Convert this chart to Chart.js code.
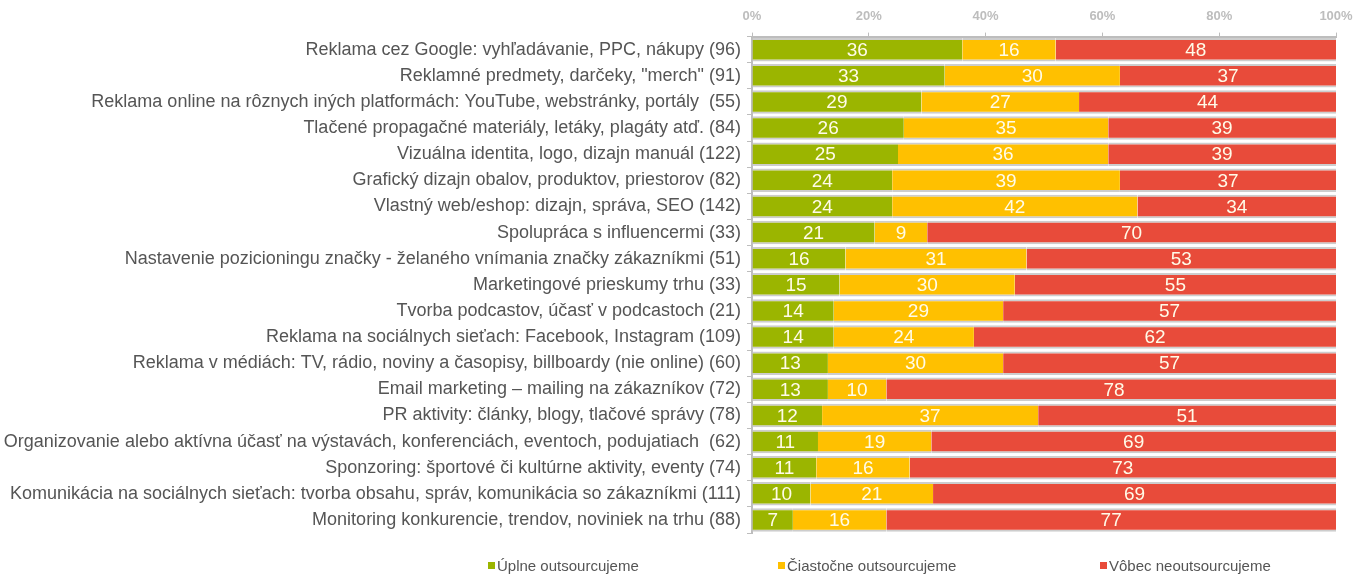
<!DOCTYPE html>
<html>
<head>
<meta charset="utf-8">
<script src="https://cdn.jsdelivr.net/npm/chart.js@4"></script>
<style>
  body { margin: 0; background: #fff; }
  #wrap { position: relative; width: 1357px; height: 577px; }
  #legend { position: absolute; top: 557px; left: 0; width: 1357px; height: 20px;
    font-family: "Liberation Sans", Arial, sans-serif; font-size: 15px; color: #555; }
  .item { position: absolute; top: 0; white-space: nowrap; }
  .item span.box { display: inline-block; width: 7px; height: 7px; margin-right: 2px; vertical-align: 2px; }
</style>
</head>
<body>
<div id="wrap">
  <canvas id="myChart" width="1357" height="577"></canvas>
  <div id="legend"></div>
</div>
<script>
// data
var categories = [
  'Reklama cez Google: vyhľadávanie, PPC, nákupy (96)',
  'Reklamné predmety, darčeky, "merch" (91)',
  'Reklama online na rôznych iných platformách: YouTube, webstránky, portály  (55)',
  'Tlačené propagačné materiály, letáky, plagáty atď. (84)',
  'Vizuálna identita, logo, dizajn manuál (122)',
  'Grafický dizajn obalov, produktov, priestorov (82)',
  'Vlastný web/eshop: dizajn, správa, SEO (142)',
  'Spolupráca s influencermi (33)',
  'Nastavenie pozicioningu značky - želaného vnímania značky zákazníkmi (51)',
  'Marketingové prieskumy trhu (33)',
  'Tvorba podcastov, účasť v podcastoch (21)',
  'Reklama na sociálnych sieťach: Facebook, Instagram (109)',
  'Reklama v médiách: TV, rádio, noviny a časopisy, billboardy (nie online) (60)',
  'Email marketing – mailing na zákazníkov (72)',
  'PR aktivity: články, blogy, tlačové správy (78)',
  'Organizovanie alebo aktívna účasť na výstavách, konferenciách, eventoch, podujatiach  (62)',
  'Sponzoring: športové či kultúrne aktivity, eventy (74)',
  'Komunikácia na sociálnych sieťach: tvorba obsahu, správ, komunikácia so zákazníkmi (111)',
  'Monitoring konkurencie, trendov, noviniek na trhu (88)'
];
var fullyOut   = [36, 33, 29, 26, 25, 24, 24, 21, 16, 15, 14, 14, 13, 13, 12, 11.3, 11, 10, 7];
var partlyOut  = [16, 30, 27, 35, 36, 39, 42,  9, 31, 30, 29, 24, 30, 10, 37, 19.4, 16, 21, 16];
var notOut     = [48, 37, 44, 39, 39, 37, 34, 70, 53, 55, 57, 62, 57, 78, 51, 69.3, 73, 69, 77];
var seriesNames = ['Úplne outsourcujeme', 'Čiastočne outsourcujeme', 'Vôbec neoutsourcujeme'];
var tickValues = [0, 20, 40, 60, 80, 100];

var colors = ['#9bb500', '#ffc000', '#e84b3a'];
var font = '"Liberation Sans", Arial, sans-serif';

function makeSet(i, values) {
  return {
    label: seriesNames[i],
    data: values,
    backgroundColor: colors[i],
    borderColor: '#cdcdcd',
    borderWidth: {top: 2, bottom: 2, left: 0, right: 0},
    borderSkipped: false,
    barPercentage: 0.9,
    categoryPercentage: 1
  };
}

// values inside the bars
var barLabels = {
  id: 'barLabels',
  afterDatasetsDraw: function (chart) {
    var ctx = chart.ctx;
    ctx.save();
    ctx.font = '19px "Liberation Sans Narrow", "Liberation Sans", Arial, sans-serif';
    ctx.fillStyle = '#fffbe8';
    ctx.textAlign = 'center';
    ctx.textBaseline = 'middle';
    chart.data.datasets.forEach(function (ds, i) {
      chart.getDatasetMeta(i).data.forEach(function (bar, j) {
        var c = bar.getCenterPoint();
        ctx.fillText(Math.round(ds.data[j]), c.x, c.y + 1);
      });
    });
    ctx.restore();
  }
};

var chart = new Chart('myChart', {
  type: 'bar',
  data: {
    labels: categories,
    datasets: [makeSet(0, fullyOut), makeSet(1, partlyOut), makeSet(2, notOut)]
  },
  options: {
    indexAxis: 'y',
    responsive: false,
    animation: false,
    layout: { padding: { top: 1, right: 21, bottom: 44, left: 0 } },
    plugins: {
      legend: { display: false },
      tooltip: { enabled: false }
    },
    scales: {
      x: {
        position: 'top',
        stacked: true,
        min: 0,
        max: 100,
        afterBuildTicks: function (scale) {
          scale.ticks = tickValues.map(function (v) { return {value: v}; });
        },
        afterFit: function (scale) {
          scale.paddingRight = 0;
          scale.paddingLeft = 0;
        },
        ticks: {
          color: '#bdbdbd',
          font: { family: font, size: 13, weight: 'bold' },
          padding: 8,
          callback: function (v) { return v + '%'; }
        },
        grid: { display: true, drawOnChartArea: false, color: '#bdbdbd', tickLength: 4 },
        border: { color: '#bdbdbd', width: 2 }
      },
      y: {
        stacked: true,
        afterFit: function (scale) { scale.width = 752; },
        ticks: {
          color: '#555',
          font: { family: font, size: 18 },
          padding: 6,
          autoSkip: false
        },
        grid: { display: true, drawOnChartArea: false, offset: true, color: '#bdbdbd', tickLength: 5 },
        border: { color: '#bdbdbd', width: 2 }
      }
    }
  },
  plugins: [barLabels]
});

// legend
var legendLeft = [488, 778, 1100];
var legend = document.getElementById('legend');
chart.data.datasets.forEach(function (ds, i) {
  var d = document.createElement('div');
  d.className = 'item';
  d.style.left = legendLeft[i] + 'px';
  d.innerHTML = '<span class="box" style="background:' + ds.backgroundColor + '"></span>' + ds.label;
  legend.appendChild(d);
});
</script>
</body>
</html>
